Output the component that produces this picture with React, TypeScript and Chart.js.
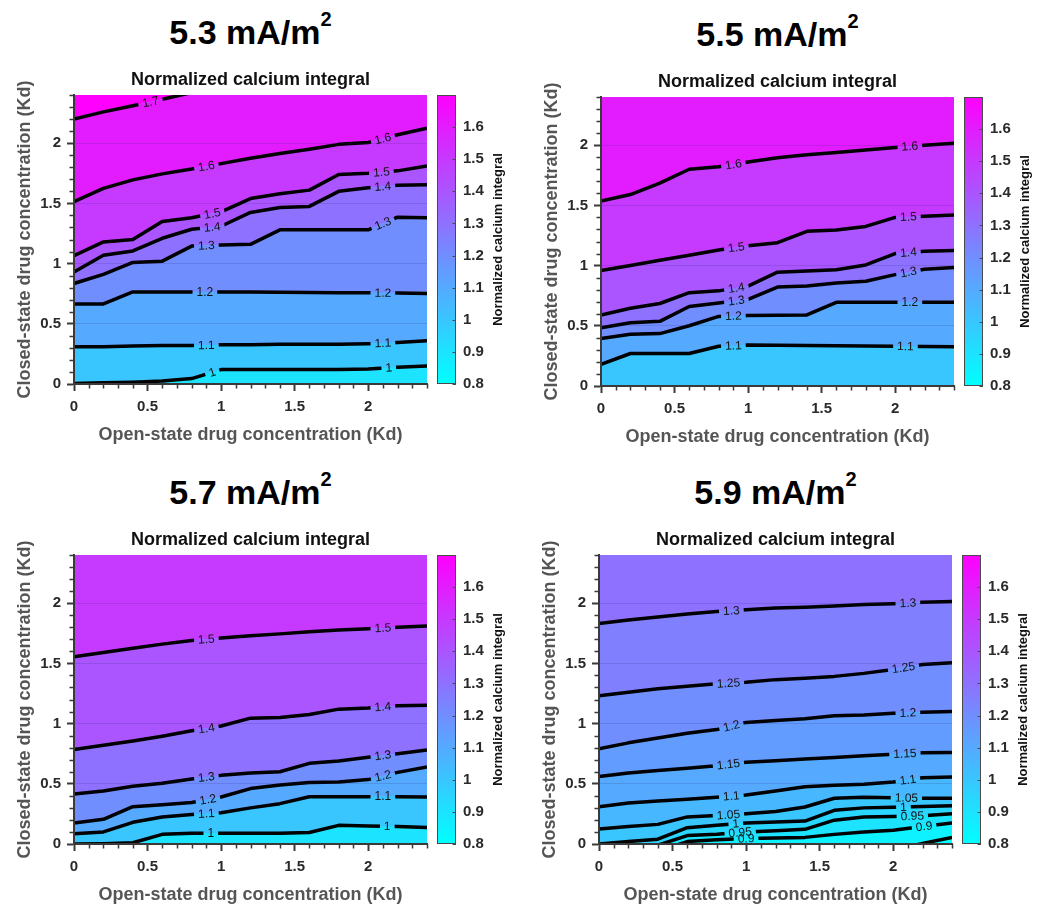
import React, { useEffect, useRef } from 'react';
import { Chart, registerables } from 'chart.js';

Chart.register(...registerables);

const FONT = '"Liberation Sans", Arial, Helvetica, sans-serif';
Chart.defaults.font.family = FONT;

// ---------------- data ----------------
const xGrid = [0, 0.2, 0.4, 0.6, 0.8, 1.0, 1.2, 1.4, 1.6, 1.8, 2.0, 2.2, 2.4];

const panelTitles = ['5.3', '5.5', '5.7', '5.9'];
const subTitle = 'Normalized calcium integral';
const xTitle = 'Open-state drug concentration (Kd)';
const yTitle = 'Closed-state drug concentration (Kd)';
const cbTitle = 'Normalized calcium integral';

const X_MAX = 2.4;
const Y_MAX = 2.4;
const CB_MIN = 0.8;
const CB_MAX = 1.7;
const CB_LABEL_MAX = 1.6;

// 5.3 mA/m2 (the 1.7 contour leaves the plot through its top edge near x = 0.72)
const levels53 = [1.0, 1.1, 1.2, 1.3, 1.4, 1.5, 1.6, 1.7];
const lines53 = [
  [0.005, 0.01, 0.015, 0.025, 0.045, 0.12, 0.12, 0.12, 0.12, 0.12, 0.125, 0.14, 0.15],
  [0.31, 0.31, 0.315, 0.32, 0.32, 0.325, 0.325, 0.33, 0.33, 0.33, 0.335, 0.345, 0.36],
  [0.665, 0.665, 0.765, 0.765, 0.765, 0.765, 0.763, 0.762, 0.76, 0.758, 0.757, 0.755, 0.752],
  [0.835, 0.91, 1.01, 1.02, 1.145, 1.155, 1.16, 1.28, 1.28, 1.28, 1.28, 1.385, 1.38],
  [0.93, 1.07, 1.105, 1.21, 1.285, 1.31, 1.425, 1.465, 1.475, 1.6, 1.63, 1.65, 1.655],
  [1.065, 1.18, 1.2, 1.35, 1.38, 1.43, 1.54, 1.58, 1.61, 1.74, 1.75, 1.77, 1.81],
  [1.515, 1.625, 1.695, 1.745, 1.785, 1.83, 1.875, 1.915, 1.95, 1.99, 2.005, 2.07, 2.125],
  [2.2, 2.26, 2.31, 2.365, 2.42, 2.43, 2.43, 2.43, 2.43, 2.43, 2.43, 2.43, 2.43],
];
const labels53 = [[0.94, 2.14], [0.9, 2.1], [0.89, 2.1], [0.9, 2.1], [0.94, 2.1], [0.94, 2.09], [0.9, 2.1], [0.52]];

// 5.5 mA/m2
const levels55 = [1.1, 1.2, 1.3, 1.4, 1.5, 1.6];
const lines55 = [
  [0.18, 0.27, 0.27, 0.27, 0.33, 0.34, 0.338, 0.336, 0.334, 0.332, 0.33, 0.328, 0.326],
  [0.395, 0.43, 0.435, 0.5, 0.578, 0.585, 0.587, 0.59, 0.695, 0.695, 0.695, 0.695, 0.695],
  [0.483, 0.525, 0.537, 0.66, 0.69, 0.72, 0.822, 0.83, 0.855, 0.87, 0.925, 0.97, 0.985],
  [0.59, 0.645, 0.685, 0.775, 0.79, 0.83, 0.945, 0.955, 0.965, 1.005, 1.1, 1.12, 1.125],
  [0.96, 1.0, 1.045, 1.085, 1.13, 1.165, 1.19, 1.285, 1.295, 1.325, 1.4, 1.41, 1.42],
  [1.535, 1.59, 1.685, 1.8, 1.82, 1.86, 1.895, 1.92, 1.94, 1.96, 1.98, 2.0, 2.015],
];
const labels55 = [[0.9, 2.07], [0.9, 2.1], [0.92, 2.09], [0.92, 2.09], [0.92, 2.09], [0.9, 2.1]];

// 5.7 mA/m2
const levels57 = [1.0, 1.1, 1.2, 1.3, 1.4, 1.5];
const lines57 = [
  [0.0, 0.003, 0.01, 0.08, 0.09, 0.09, 0.09, 0.09, 0.095, 0.155, 0.15, 0.145, 0.137],
  [0.085, 0.1, 0.18, 0.225, 0.245, 0.26, 0.3, 0.335, 0.393, 0.393, 0.393, 0.393, 0.39],
  [0.175, 0.205, 0.31, 0.325, 0.345, 0.39, 0.46, 0.49, 0.51, 0.515, 0.535, 0.595, 0.64],
  [0.415, 0.44, 0.48, 0.505, 0.54, 0.57, 0.59, 0.6, 0.67, 0.69, 0.72, 0.75, 0.78],
  [0.785, 0.82, 0.855, 0.895, 0.94, 0.98, 1.045, 1.05, 1.075, 1.12, 1.13, 1.148, 1.153],
  [1.555, 1.59, 1.625, 1.66, 1.69, 1.71, 1.73, 1.745, 1.762, 1.777, 1.788, 1.8, 1.81],
];
const labels57 = [[0.93, 2.13], [0.9, 2.1], [0.91, 2.1], [0.9, 2.1], [0.9, 2.1], [0.9, 2.1]];

// 5.9 mA/m2 (the lowest contours run below the bottom edge on the left)
const levels59 = [0.85, 0.9, 0.95, 1.0, 1.05, 1.1, 1.15, 1.2, 1.25, 1.3];
const lines59 = [
  [-0.05, -0.05, -0.05, -0.05, -0.05, -0.05, -0.05, -0.05, -0.05, -0.05, -0.05, 0.005, 0.055],
  [-0.06, -0.06, -0.06, 0.02, 0.035, 0.045, 0.05, 0.055, 0.08, 0.1, 0.115, 0.145, 0.175],
  [-0.03, -0.03, -0.01, 0.07, 0.08, 0.1, 0.11, 0.122, 0.198, 0.225, 0.228, 0.235, 0.252],
  [0.0, 0.02, 0.04, 0.135, 0.155, 0.175, 0.182, 0.19, 0.28, 0.3, 0.305, 0.312, 0.318],
  [0.125, 0.145, 0.163, 0.225, 0.236, 0.252, 0.27, 0.307, 0.38, 0.388, 0.385, 0.38, 0.38],
  [0.31, 0.34, 0.358, 0.372, 0.388, 0.407, 0.44, 0.475, 0.488, 0.497, 0.515, 0.55, 0.556],
  [0.56, 0.59, 0.61, 0.63, 0.65, 0.678, 0.692, 0.705, 0.718, 0.732, 0.746, 0.757, 0.76],
  [0.79, 0.84, 0.88, 0.92, 0.95, 1.01, 1.025, 1.04, 1.065, 1.072, 1.085, 1.094, 1.1],
  [1.23, 1.26, 1.29, 1.31, 1.33, 1.343, 1.365, 1.376, 1.392, 1.417, 1.45, 1.49, 1.505],
  [1.83, 1.86, 1.885, 1.91, 1.93, 1.945, 1.96, 1.967, 1.977, 1.988, 1.995, 2.007, 2.013],
];
const labels59 = [[], [1.0, 2.21], [0.96, 2.13], [0.93, 2.07], [0.88, 2.09], [0.9, 2.1], [0.88, 2.08], [0.9, 2.1], [0.88, 2.07], [0.9, 2.1]];

const panelLevels = [levels53, levels55, levels57, levels59];
const panelLines = [lines53, lines55, lines57, lines59];
const panelLabels = [labels53, labels55, labels57, labels59];

// ---------------- layout ----------------
const panelPos = [
  { left: 0, top: 50 },
  { left: 527, top: 52 },
  { left: 0, top: 510 },
  { left: 525, top: 510 },
];
const CANVAS_W = 520;
const CANVAS_H = 400;
const Y_AXIS_W = 74;
const CB_AXIS_W = 93;
const X_AXIS_H = 66;
const LABEL_FONT = `12px ${FONT}`;

// ---------------- helpers ----------------
function cool(v: number): string {
  const t = Math.max(0, Math.min(1, (v - CB_MIN) / (CB_MAX - CB_MIN)));
  return `rgb(${Math.round(255 * t)},${Math.round(255 * (1 - t))},255)`;
}
const fmtLevel = (v: number) => String(parseFloat(v.toFixed(2)));
const isMajor = (v: number) => Math.abs(v * 2 - Math.round(v * 2)) < 1e-6;
const TRANSPARENT = 'rgba(0,0,0,0)';
const AXIS_COLOR = '#3a3a3a';

function ContourPanel({ idx }: { idx: number }) {
  const ref = useRef<HTMLCanvasElement>(null);
  const pos = panelPos[idx];

  useEffect(() => {
    const canvas = ref.current;
    if (!canvas) return;
    const levels = panelLevels[idx];
    const lines = panelLines[idx];
    const labelXs = panelLabels[idx];
    const step = levels[1] - levels[0];
    const bottomColor = cool(levels[0] - step);

    const datasets = lines.map((ys, i) => ({
      label: fmtLevel(levels[i]),
      data: xGrid.map((x, j) => ({ x, y: ys[j] })),
      borderColor: '#000',
      borderWidth: 3.5,
      borderJoinStyle: 'round',
      pointRadius: 0,
      pointHoverRadius: 0,
      tension: 0,
      clip: 0,
      fill: i === lines.length - 1 ? 'end' : '+1',
      backgroundColor: cool(levels[i]),
    }));

    const labelGeom = (chart: any, i: number) => {
      const xs = chart.scales.x;
      const ysc = chart.scales.y;
      const yv = lines[i];
      return (labelXs[i] || []).map((lx: number) => {
        let j = 0;
        while (j < xGrid.length - 2 && lx > xGrid[j + 1]) j++;
        const f = (lx - xGrid[j]) / (xGrid[j + 1] - xGrid[j]);
        const ly = yv[j] + f * (yv[j + 1] - yv[j]);
        const ang = Math.atan2(
          ysc.getPixelForValue(yv[j + 1]) - ysc.getPixelForValue(yv[j]),
          xs.getPixelForValue(xGrid[j + 1]) - xs.getPixelForValue(xGrid[j])
        );
        return { px: xs.getPixelForValue(lx), py: ysc.getPixelForValue(ly), ang, text: fmtLevel(levels[i]) };
      });
    };

    const extras = {
      id: 'contourExtras',
      beforeDraw(chart: any) {
        const { ctx, chartArea: a } = chart;
        ctx.save();
        ctx.fillStyle = bottomColor;
        ctx.fillRect(a.left, a.top, a.right - a.left, a.bottom - a.top);
        ctx.restore();
      },
      beforeDatasetDraw(chart: any, args: any) {
        const { ctx } = chart;
        ctx.save();
        ctx.font = LABEL_FONT;
        ctx.beginPath();
        ctx.rect(0, 0, chart.width, chart.height);
        for (const g of labelGeom(chart, args.index)) {
          const hw = ctx.measureText(g.text).width / 2 + 4;
          const hh = 7;
          const c = Math.cos(g.ang);
          const s = Math.sin(g.ang);
          const pts = [[-hw, -hh], [hw, -hh], [hw, hh], [-hw, hh]].map(([u, v]) => [g.px + u * c - v * s, g.py + u * s + v * c]);
          ctx.moveTo(pts[0][0], pts[0][1]);
          for (let k = 1; k < 4; k++) ctx.lineTo(pts[k][0], pts[k][1]);
          ctx.closePath();
        }
        ctx.clip('evenodd');
      },
      afterDatasetDraw(chart: any) {
        chart.ctx.restore();
      },
      afterDatasetsDraw(chart: any) {
        const { ctx, chartArea: a } = chart;
        ctx.save();
        ctx.beginPath();
        ctx.rect(a.left, a.top, a.right - a.left, a.bottom - a.top);
        ctx.clip();
        ctx.font = LABEL_FONT;
        ctx.fillStyle = '#111';
        ctx.textAlign = 'center';
        ctx.textBaseline = 'middle';
        for (let i = 0; i < lines.length; i++) {
          for (const g of labelGeom(chart, i)) {
            ctx.save();
            ctx.translate(g.px, g.py);
            ctx.rotate(g.ang);
            ctx.fillText(g.text, 0, 0.5);
            ctx.restore();
          }
        }
        ctx.restore();
      },
      afterDraw(chart: any) {
        const { ctx, chartArea: a } = chart;
        const xs = chart.scales.x;
        const ysc = chart.scales.y;
        const cb = chart.scales.cb;
        ctx.save();
        // minor ticks
        ctx.strokeStyle = AXIS_COLOR;
        ctx.lineWidth = 1.5;
        ctx.beginPath();
        for (const t of xs.ticks) {
          if (isMajor(t.value)) continue;
          const px = Math.round(xs.getPixelForValue(t.value)) + 0.5;
          ctx.moveTo(px, a.bottom);
          ctx.lineTo(px, a.bottom + 4.5);
        }
        for (const t of ysc.ticks) {
          if (isMajor(t.value)) continue;
          const py = Math.round(ysc.getPixelForValue(t.value)) + 0.5;
          ctx.moveTo(a.left, py);
          ctx.lineTo(a.left - 4.5, py);
        }
        ctx.stroke();

        // colorbar
        const x0 = a.right + 10;
        const x1 = a.right + 29;
        const yTop = cb.getPixelForValue(CB_MAX);
        const yBot = cb.getPixelForValue(CB_MIN);
        const grad = ctx.createLinearGradient(0, yBot, 0, yTop);
        const N = 9;
        for (let k = 0; k <= N; k++) {
          grad.addColorStop(k / N, cool(CB_MIN + ((CB_MAX - CB_MIN) * k) / N));
        }
        ctx.fillStyle = grad;
        ctx.fillRect(x0, yTop, x1 - x0, yBot - yTop);
        ctx.strokeStyle = '#4a4a4a';
        ctx.lineWidth = 1;
        ctx.strokeRect(x0 + 0.5, yTop + 0.5, x1 - x0 - 1, yBot - yTop - 1);
        ctx.beginPath();
        for (const t of cb.ticks) {
          const py = Math.round(cb.getPixelForValue(t.value)) + 0.5;
          ctx.moveTo(x1, py);
          ctx.lineTo(x1 - 3.5, py);
        }
        ctx.stroke();

        // colorbar title
        ctx.translate(a.right + 71, (a.top + a.bottom) / 2);
        ctx.rotate(-Math.PI / 2);
        ctx.font = `bold 13px ${FONT}`;
        ctx.fillStyle = '#111';
        ctx.textAlign = 'center';
        ctx.textBaseline = 'middle';
        ctx.fillText(cbTitle, 0, 0);
        ctx.restore();
      },
    };

    const tickFont = { family: FONT, size: 15, weight: 'bold' as const };
    const titleFont = { family: FONT, size: 18, weight: 'bold' as const };
    const tickCb = (v: any) => (isMajor(+v) ? String(parseFloat((+v).toFixed(1))) : '');
    const majorTickColor = (c: any) => (c.tick && isMajor(c.tick.value) ? AXIS_COLOR : TRANSPARENT);

    const chart = new Chart(canvas, {
      type: 'line',
      data: { datasets: datasets as any },
      plugins: [extras],
      options: {
        responsive: false,
        maintainAspectRatio: false,
        animation: false,
        events: [],
        layout: { padding: 0 },
        plugins: {
          legend: { display: false },
          tooltip: { enabled: false },
          filler: { drawTime: 'beforeDatasetsDraw' },
          title: {
            display: true,
            text: subTitle,
            fullSize: false,
            color: '#111',
            font: titleFont,
            padding: { top: 13.6, bottom: 3.8 },
          },
        },
        scales: {
          x: {
            type: 'linear',
            position: 'bottom',
            min: 0,
            max: X_MAX,
            ticks: {
              stepSize: 0.1,
              autoSkip: false,
              maxRotation: 0,
              minRotation: 0,
              padding: 7,
              font: tickFont,
              color: '#2a2a2a',
              callback: tickCb,
            },
            grid: {
              display: true,
              drawOnChartArea: false,
              drawTicks: true,
              tickLength: 7,
              tickWidth: 2,
              tickColor: majorTickColor,
              z: 1,
            },
            border: { display: true, color: AXIS_COLOR, width: 2, z: 1 },
            title: { display: true, text: xTitle, font: titleFont, color: '#555', padding: { top: 0, bottom: 4 } },
            afterFit: (s: any) => {
              s.height = X_AXIS_H;
            },
          },
          y: {
            type: 'linear',
            position: 'left',
            min: 0,
            max: Y_MAX,
            ticks: {
              stepSize: 0.1,
              autoSkip: false,
              padding: 6,
              font: tickFont,
              color: '#2a2a2a',
              callback: tickCb,
            },
            grid: {
              display: true,
              drawOnChartArea: true,
              drawTicks: true,
              tickLength: 7,
              tickWidth: 2,
              lineWidth: 1,
              z: 1,
              color: (c: any) => (c.tick && isMajor(c.tick.value) && c.tick.value > 0 ? 'rgba(40,40,110,0.16)' : TRANSPARENT),
              tickColor: majorTickColor,
            },
            border: { display: true, color: AXIS_COLOR, width: 2, z: 1 },
            title: { display: true, text: yTitle, font: titleFont, color: '#555', padding: { top: 14, bottom: 0 } },
            afterFit: (s: any) => {
              s.width = Y_AXIS_W;
            },
          },
          cb: {
            type: 'linear',
            position: 'right',
            min: CB_MIN,
            max: CB_MAX,
            ticks: {
              stepSize: 0.1,
              autoSkip: false,
              padding: 36,
              font: tickFont,
              color: '#2a2a2a',
              callback: (v: any) => (+v > CB_LABEL_MAX + 0.05 ? '' : fmtLevel(+v)),
            },
            grid: { display: false, drawTicks: false, drawOnChartArea: false },
            border: { display: false },
            afterFit: (s: any) => {
              s.width = CB_AXIS_W;
            },
          },
        },
      } as any,
    });
    return () => chart.destroy();
  }, [idx]);

  return (
    <>
      <div
        style={{
          position: 'absolute',
          left: pos.left + Y_AXIS_W,
          top: pos.top - 35,
          width: CANVAS_W - Y_AXIS_W - CB_AXIS_W,
          textAlign: 'center',
          fontFamily: FONT,
          fontWeight: 'bold',
          fontSize: 34,
          lineHeight: '34px',
          whiteSpace: 'nowrap',
          color: '#000',
        }}
      >
        {panelTitles[idx]} mA/m
        <sup style={{ fontSize: 20, verticalAlign: '18px', lineHeight: 0 }}>2</sup>
      </div>
      <canvas
        ref={ref}
        width={CANVAS_W}
        height={CANVAS_H}
        style={{ position: 'absolute', left: pos.left, top: pos.top, width: CANVAS_W, height: CANVAS_H }}
      />
    </>
  );
}

export default function App() {
  return (
    <div
      style={{
        position: 'fixed',
        left: 0,
        top: 0,
        width: 1040,
        height: 904,
        background: '#fff',
        overflow: 'hidden',
      }}
    >
      {panelTitles.map((_, i) => (
        <ContourPanel key={i} idx={i} />
      ))}
    </div>
  );
}
